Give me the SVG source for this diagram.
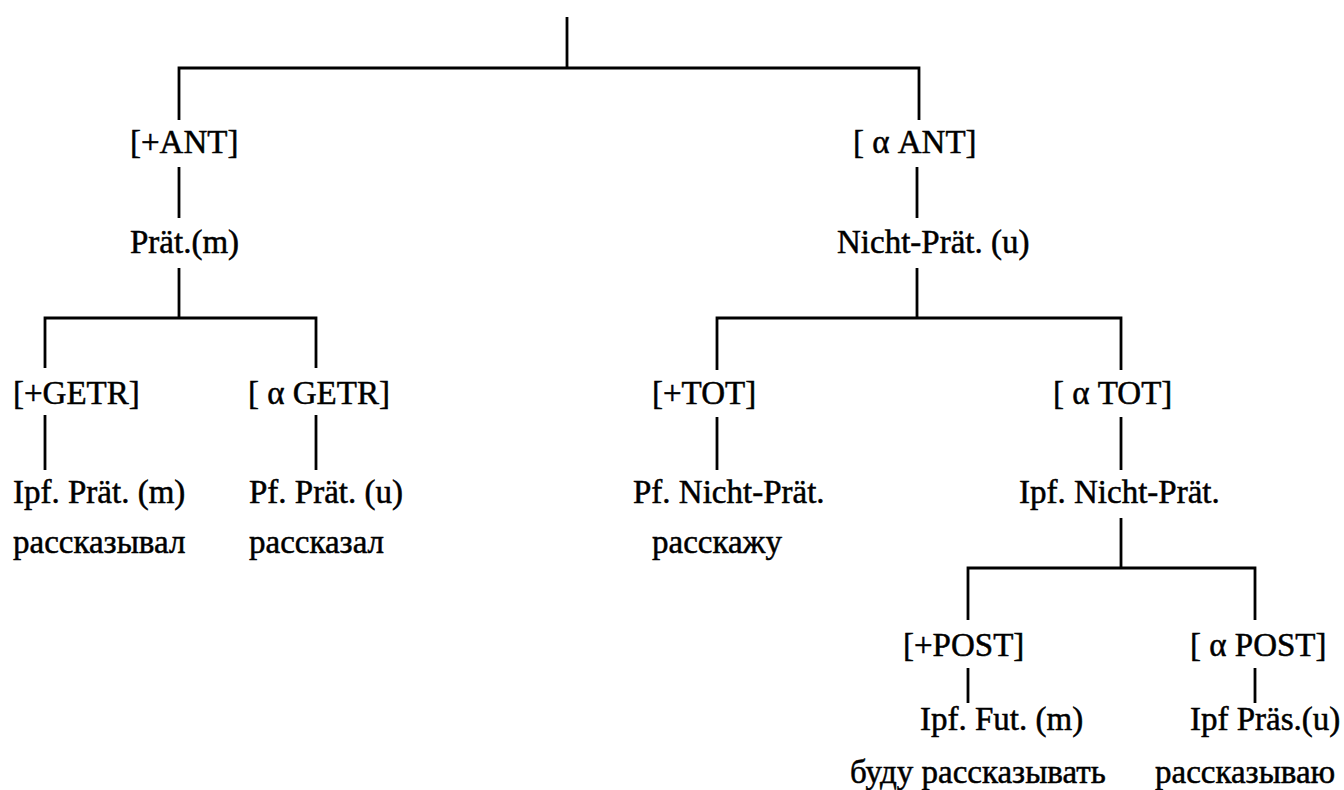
<svg xmlns="http://www.w3.org/2000/svg" width="1344" height="790" viewBox="0 0 1344 790">
<style>
  .t { font-family: "Liberation Serif", "Times New Roman", serif; font-size: 33px; fill: #000; stroke: #000; stroke-width: 0.5; }
  .e { stroke: #000; stroke-width: 2.8; fill: none; stroke-linecap: butt; }
</style>
<rect x="0" y="0" width="1344" height="790" fill="#fff"/>
<g id="connectors" class="e">
  <path d="M567,17 V68"/>
  <path d="M179,120 V68 H919 V120"/>
  <path d="M179,167 V218"/>
  <path d="M917,167 V218"/>
  <path d="M179,268 V318"/>
  <path d="M917,268 V318"/>
  <path d="M45,368 V318 H316 V368"/>
  <path d="M717,370 V318 H1121 V370"/>
  <path d="M45,415 V470"/>
  <path d="M316,415 V470"/>
  <path d="M717,417 V470"/>
  <path d="M1121,417 V470"/>
  <path d="M1121,518 V568"/>
  <path d="M968,620 V568 H1255 V620"/>
  <path d="M968,668 V703"/>
  <path d="M1255,668 V703"/>
</g>
<g id="n-ant-plus"><text class="t" x="130" y="153">[+ANT]</text></g>
<g id="n-praet"><text class="t" x="130" y="253">Prät.(m)</text></g>
<g id="n-ant-alpha"><text class="t" x="853" y="153">[ α  ANT]</text></g>
<g id="n-nichtpraet"><text class="t" x="837" y="253">Nicht-Prät. (u)</text></g>
<g id="n-getr-plus"><text class="t" x="13" y="404">[+GETR]</text></g>
<g id="n-getr-alpha"><text class="t" x="248" y="404">[ α  GETR]</text></g>
<g id="n-tot-plus"><text class="t" x="652" y="404">[+TOT]</text></g>
<g id="n-tot-alpha"><text class="t" x="1053" y="404">[ α  TOT]</text></g>
<g id="n-ipf-praet">
  <text class="t" x="13" y="503">Ipf. Prät. (m)</text>
  <text class="t" x="13" y="553">рассказывал</text>
</g>
<g id="n-pf-praet">
  <text class="t" x="249" y="503">Pf. Prät. (u)</text>
  <text class="t" x="249" y="553">рассказал</text>
</g>
<g id="n-pf-nichtpraet">
  <text class="t" x="633" y="503">Pf. Nicht-Prät.</text>
  <text class="t" x="652" y="553">расскажу</text>
</g>
<g id="n-ipf-nichtpraet"><text class="t" x="1019" y="503">Ipf. Nicht-Prät.</text></g>
<g id="n-post-plus"><text class="t" x="903" y="656">[+POST]</text></g>
<g id="n-post-alpha"><text class="t" x="1190" y="656">[ α  POST]</text></g>
<g id="n-ipf-fut">
  <text class="t" x="920" y="730">Ipf. Fut. (m)</text>
  <text class="t" x="850" y="783">буду рассказывать</text>
</g>
<g id="n-ipf-praes">
  <text class="t" x="1190" y="730">Ipf Präs.(u)</text>
  <text class="t" x="1155" y="783">рассказываю</text>
</g>
</svg>
